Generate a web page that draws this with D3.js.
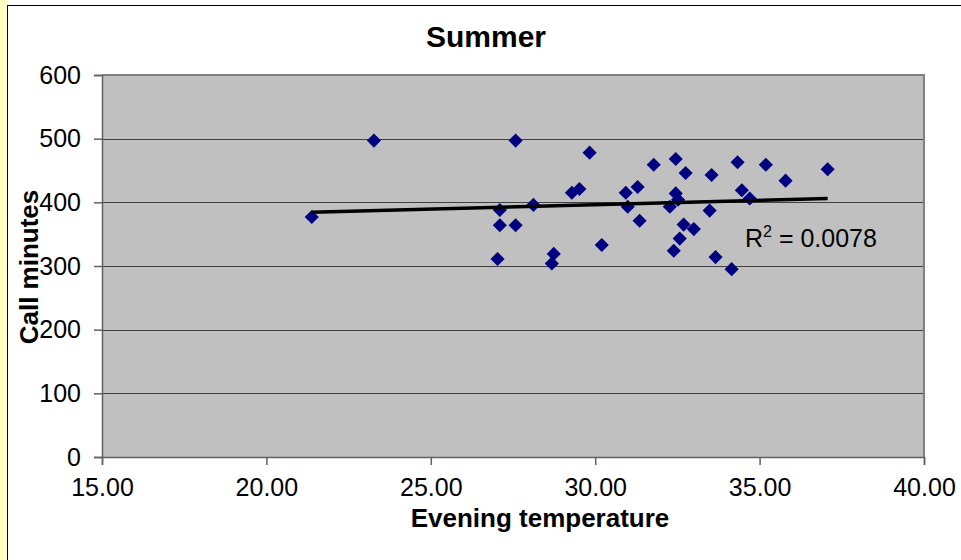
<!DOCTYPE html>
<html><head><meta charset="utf-8">
<script src="https://cdn.jsdelivr.net/npm/d3@7/dist/d3.min.js"></script>
<style>
body{margin:0;background:#fff}
svg{display:block}
text{font-family:Arial,"Liberation Sans",sans-serif;fill:#000}
</style>
</head><body>
<svg id="chart" width="961" height="560"></svg>
<script>
const chartTitle = "Summer";
const xAxisTitle = "Evening temperature";
const yAxisTitle = "Call minutes";
const r2Value = "0.0078";
const xTickValues = [15, 20, 25, 30, 35, 40];
const yTickValues = [0, 100, 200, 300, 400, 500, 600];
const temperature = [21.38, 23.27, 27.58, 29.83, 31.78, 32.45, 34.33, 35.19, 37.07, 32.75,
  33.54, 35.79, 29.29, 29.52, 30.93, 31.29, 32.45, 32.52, 34.46, 34.70,
  27.10, 28.12, 30.99, 32.27, 33.48, 31.35, 27.10, 27.58, 32.69, 33.00,
  32.57, 30.20, 32.39, 28.74, 33.66, 27.03, 28.68, 34.15];
const callMinutes = [377, 497, 497, 478, 459, 468, 463, 459, 452, 446,
  443, 434, 415, 421, 415, 424, 414, 404, 419, 406,
  388, 396, 393, 393, 387, 371, 364, 364, 365, 358,
  343, 333, 324, 319, 314, 311, 304, 295];

const svg = d3.select("#chart");
const W = 961, H = 560;
const plot = {left: 102, right: 924, top: 75, bottom: 457};

// outer frame
svg.append("rect").attr("x", 0).attr("y", 0).attr("width", W).attr("height", H).attr("fill", "#fff");
svg.append("rect").attr("x", 0).attr("y", 0).attr("width", 7).attr("height", H).attr("fill", "#ffffc0");
svg.append("line").attr("x1", 7.5).attr("x2", 7.5).attr("y1", 5).attr("y2", H).attr("stroke", "#000").attr("stroke-width", 1);
svg.append("line").attr("x1", 7).attr("x2", W).attr("y1", 5.5).attr("y2", 5.5).attr("stroke", "#000").attr("stroke-width", 1);

const x = d3.scaleLinear().domain([15, 40]).range([plot.left, plot.right]);
const y = d3.scaleLinear().domain([0, 600]).range([plot.bottom, plot.top]);

// plot background
svg.append("rect")
  .attr("x", plot.left).attr("y", plot.top)
  .attr("width", plot.right - plot.left).attr("height", plot.bottom - plot.top)
  .attr("fill", "#c0c0c0");

// gridlines
svg.append("g").selectAll("line").data(yTickValues.filter(v => v > 0 && v < 600)).join("line")
  .attr("x1", plot.left).attr("x2", plot.right)
  .attr("y1", d => Math.round(y(d)) + 0.5).attr("y2", d => Math.round(y(d)) + 0.5)
  .attr("stroke", "#404040").attr("stroke-width", 1.2);

// plot border top/right
svg.append("path")
  .attr("d", `M${plot.left},${plot.top}H${plot.right}V${plot.bottom}`)
  .attr("fill", "none").attr("stroke", "#808080").attr("stroke-width", 2);

// y axis
const yAxis = d3.axisLeft(y).tickValues(yTickValues).tickFormat(d3.format("d")).tickSize(8).tickPadding(13);
const gy = svg.append("g").attr("transform", `translate(${plot.left},0)`).call(yAxis);
gy.select(".domain").attr("stroke", "#606060").attr("stroke-width", 1.5);
gy.selectAll(".tick line").attr("stroke", "#606060").attr("stroke-width", 1.5);
gy.selectAll(".tick text").attr("font-size", 25).attr("font-family", "Arial, 'Liberation Sans', sans-serif").attr("fill", "#000");

// x axis
const xAxis = d3.axisBottom(x).tickValues(xTickValues).tickFormat(d3.format(".2f")).tickSize(8).tickPadding(13);
const gx = svg.append("g").attr("transform", `translate(0,${plot.bottom})`).call(xAxis);
gx.select(".domain").attr("stroke", "#606060").attr("stroke-width", 1.5);
gx.selectAll(".tick line").attr("stroke", "#606060").attr("stroke-width", 1.5);
gx.selectAll(".tick text").attr("font-size", 25).attr("font-family", "Arial, 'Liberation Sans', sans-serif").attr("fill", "#000");

// trendline (least squares)
const mx = d3.mean(temperature), my = d3.mean(callMinutes);
let sxy = 0, sxx = 0;
temperature.forEach((t, i) => { sxy += (t - mx) * (callMinutes[i] - my); sxx += (t - mx) * (t - mx); });
const slope = sxy / sxx, intercept = my - slope * mx;
const [tMin, tMax] = d3.extent(temperature);

// points
const pts = temperature.map((t, i) => ({t, m: callMinutes[i]}));
const diamond = d3.symbol().type(d3.symbolSquare).size(100);
svg.append("g").selectAll("path").data(pts).join("path")
  .attr("d", diamond)
  .attr("transform", d => `translate(${x(d.t)},${y(d.m)}) rotate(45)`)
  .attr("fill", "#000080");

svg.append("line")
  .attr("x1", x(tMin)).attr("y1", y(intercept + slope * tMin))
  .attr("x2", x(tMax)).attr("y2", y(intercept + slope * tMax))
  .attr("stroke", "#000").attr("stroke-width", 3.5);

// R² label
const r2 = svg.append("text").attr("x", 745).attr("y", 247).attr("font-size", 25);
r2.append("tspan").text("R");
r2.append("tspan").attr("font-size", 16).attr("dy", -10).text("2");
r2.append("tspan").attr("dy", 10).text(" = " + r2Value);

// titles
svg.append("text").attr("x", 486).attr("y", 47).attr("text-anchor", "middle")
  .attr("font-size", 30).attr("font-weight", "bold").text(chartTitle);
svg.append("text").attr("x", 540).attr("y", 527).attr("text-anchor", "middle")
  .attr("font-size", 26).attr("font-weight", "bold").text(xAxisTitle);
svg.append("text").attr("transform", "translate(38,267) rotate(-90)").attr("text-anchor", "middle")
  .attr("font-size", 26).attr("font-weight", "bold").text(yAxisTitle);
</script>
</body></html>
